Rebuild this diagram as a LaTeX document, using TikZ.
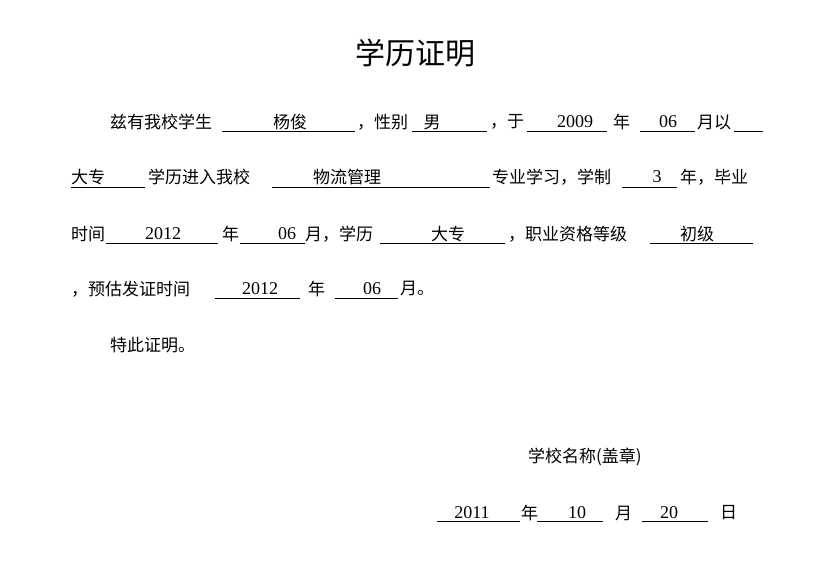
\documentclass[tikz,border=0pt]{standalone}
\usepackage{fontspec}
\setmainfont{Liberation Serif}
\newfontfamily\cjk{Noto Sans CJK SC}
\begin{document}
\begin{tikzpicture}[x=1pt,y=-1pt,
  t/.style={anchor=west,inner sep=0pt,font=\cjk\fontsize{17}{20}\selectfont},
  v/.style={anchor=center,inner sep=0pt,font=\cjk\fontsize{17}{20}\selectfont},
  n/.style={anchor=center,inner sep=0pt,font=\fontsize{18}{20}\selectfont},
  u/.style={line width=0.8pt}]
\useasboundingbox (0,0) rectangle (831,585);
\node[inner sep=0pt,font=\cjk\fontsize{30}{34}\selectfont] (title) at (415,53) {学历证明};
% line 1
\node[t] (a1) at (110,122) {兹有我校学生};
\draw[u] (222,131) -- (355,131); \node[v] (a2) at (290,122) {杨俊};
\node[t] (a3) at (357,122) {，性别};
\draw[u] (412,131) -- (487,131); \node[v] (a4) at (432,122) {男};
\node[t] (a5) at (490,122) {，于};
\draw[u] (527,131) -- (607,131); \node[n] (a6) at (575,122) {2009};
\node[t] (a7) at (613,122) {年};
\draw[u] (640,131) -- (695,131); \node[n] (a8) at (668,122) {06};
\node[t] (a9) at (697,122) {月以};
\draw[u] (734,131) -- (763,131);
% line 2
\node[t] (b1) at (71,177) {大专};
\draw[u] (71,187) -- (145,187);
\node[t] (b2) at (148,177) {学历进入我校};
\draw[u] (272,187) -- (490,187); \node[v] (b3) at (347,177) {物流管理};
\node[t] (b4) at (492,177) {专业学习，学制};
\draw[u] (622,187) -- (677,187); \node[n] (b5) at (657,177) {3};
\node[t] (b6) at (680,177) {年，毕业};
% line 3
\node[t] (c1) at (71,234) {时间};
\draw[u] (106,243) -- (218,243); \node[n] (c2) at (163,234) {2012};
\node[t] (c3) at (222,234) {年};
\draw[u] (240,243) -- (305,243); \node[n] (c4) at (287,234) {06};
\node[t] (c5) at (305,234) {月，学历};
\draw[u] (380,243) -- (505,243); \node[v] (c6) at (448,234) {大专};
\node[t] (c7) at (508,234) {，职业资格等级};
\draw[u] (650,243) -- (753,243); \node[v] (c8) at (697,234) {初级};
% line 4
\node[t] (d1) at (71,289) {，预估发证时间};
\draw[u] (215,298) -- (300,298); \node[n] (d2) at (260,289) {2012};
\node[t] (d3) at (308,289) {年};
\draw[u] (335,298) -- (398,298); \node[n] (d4) at (372,289) {06};
\node[t] (d5) at (400,289) {月。};
% line 5
\node[t] (e1) at (110,345) {特此证明。};
\node[t] (f1) at (528,457) {学校名称(盖章)};
% date
\draw[u] (437,521) -- (520,521); \node[n] (g1) at (472,513) {2011};
\node[t] (g2) at (521,513) {年};
\draw[u] (537,521) -- (603,521); \node[n] (g3) at (577,513) {10};
\node[t] (g4) at (615,513) {月};
\draw[u] (642,521) -- (708,521); \node[n] (g5) at (669,513) {20};
\node[t] (g6) at (720,513) {日};
\end{tikzpicture}
\end{document}
